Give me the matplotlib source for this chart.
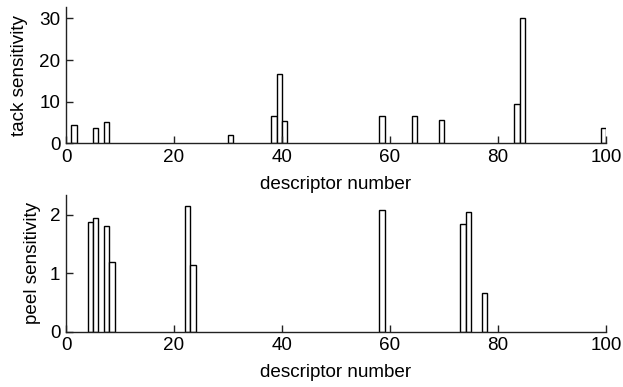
import matplotlib
matplotlib.use("Agg")
import matplotlib.pyplot as plt

plt.rcParams["font.family"] = ["Liberation Sans", "DejaVu Sans"]

# tack sensitivity per descriptor
tack_desc = [2, 6, 8, 31, 39, 40, 41, 59, 65, 70, 84, 85, 100]
tack_vals = [4.5, 3.6, 5.0, 2.1, 6.5, 16.6, 5.4, 6.5, 6.5, 5.5, 9.4, 30.1, 3.6]

# peel sensitivity per descriptor
peel_desc = [5, 6, 8, 9, 23, 24, 59, 74, 75, 78]
peel_vals = [1.88, 1.94, 1.81, 1.19, 2.15, 1.15, 2.08, 1.84, 2.05, 0.67]

x_ticks = [0, 20, 40, 60, 80, 100]

fig = plt.figure(figsize=(6.23, 3.87), dpi=100)
W, H = 623, 387

ax1 = fig.add_axes([66 / W, 1 - 143.3 / H, 540 / W, 136.6 / H])
ax2 = fig.add_axes([66 / W, 1 - 331.7 / H, 540 / W, 136.7 / H])


def style(ax, ylim, yticks, ylabel, ypad):
    ax.set_xlim(0, 100)
    ax.set_ylim(0, ylim)
    ax.set_xticks(x_ticks)
    ax.set_yticks(yticks)
    ax.spines["top"].set_visible(False)
    ax.spines["right"].set_visible(False)
    for s in ("left", "bottom"):
        ax.spines[s].set_linewidth(1.0)
        ax.spines[s].set_color("#222222")
    ax.tick_params(direction="in", length=5, width=1, labelsize=13.6,
                   color="#222222", pad=4)
    ax.set_xlabel("descriptor number", fontsize=13.6, labelpad=7)
    ax.set_ylabel(ylabel, fontsize=13.6, labelpad=ypad)


# bars fill the unit interval ending at the descriptor number
ax1.bar([d - 0.5 for d in tack_desc], tack_vals, width=1.0,
        facecolor="white", edgecolor="black", linewidth=1.0)
ax2.bar([d - 0.5 for d in peel_desc], peel_vals, width=1.0,
        facecolor="white", edgecolor="black", linewidth=1.0)

style(ax1, 32.8, [0, 10, 20, 30], "tack sensitivity", 8)
style(ax2, 2.34, [0, 1, 2], "peel sensitivity", 6)

fig.savefig("out.png", dpi=100)
